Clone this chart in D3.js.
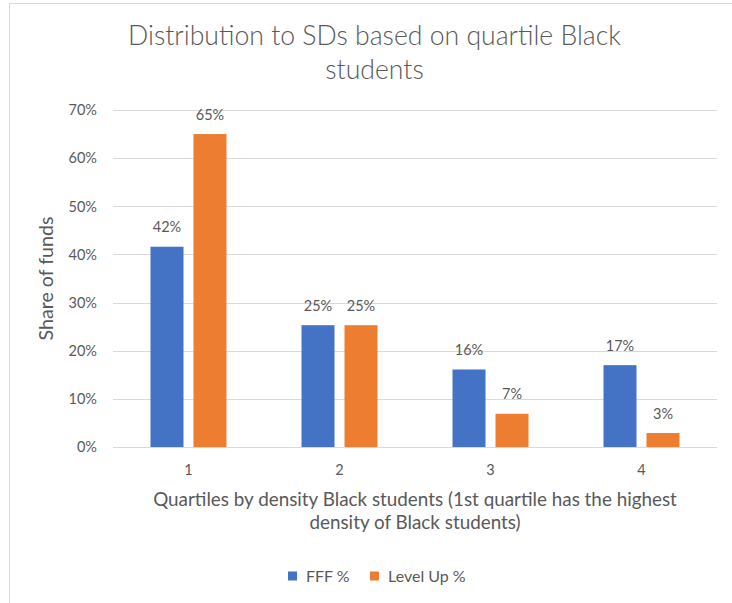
<!DOCTYPE html>
<html>
<head>
<meta charset="utf-8">
<script src="https://cdn.jsdelivr.net/npm/d3@7"></script>
<style>
  html, body { margin: 0; padding: 0; background: #fff; }
  svg { display: block; }
  text { fill: #595959; }
</style>
</head>
<body>
<script>
// ---- data ----
const categories = ["1", "2", "3", "4"];
const seriesNames = ["FFF %", "Level Up %"];
const fffValues = [0.416, 0.253, 0.161, 0.170];
const levelUpValues = [0.650, 0.253, 0.069, 0.029];
const valueLabelsFFF = ["42%", "25%", "16%", "17%"];
const valueLabelsLevelUp = ["65%", "25%", "7%", "3%"];
const yTicks = [0, 0.1, 0.2, 0.3, 0.4, 0.5, 0.6, 0.7];
const titleLines = ["Distribution to SDs based on quartile Black", "students"];
const xTitleLines = ["Quartiles by density Black students (1st quartile has the highest", "density of Black students)"];
const yTitle = "Share of funds";
const colors = ["#4472C4", "#ED7D31"];

const W = 732, H = 603;
const plot = { left: 113, right: 717, top: 110, bottom: 447 };
const FONT = "Lato, 'Open Sans', sans-serif";

const svg = d3.select("body").append("svg").attr("width", W).attr("height", H);
svg.append("rect").attr("width", W).attr("height", H).attr("fill", "#fff");

// scale a text's font size so the first element matches the target width
function fitFont(sel, baseSize, targetWidth) {
  sel.style("font-size", baseSize + "px");
  const w = sel.node().getComputedTextLength();
  const size = baseSize * targetWidth / w;
  sel.style("font-size", size + "px");
  return size;
}

// chart border (top & left visible)
svg.append("line").attr("x1", 9).attr("x2", W).attr("y1", 3.5).attr("y2", 3.5).attr("stroke", "#d9d9d9");
svg.append("line").attr("x1", 9.5).attr("x2", 9.5).attr("y1", 3).attr("y2", H).attr("stroke", "#d9d9d9");

const x0 = d3.scaleBand().domain(categories).range([plot.left, plot.right]).paddingInner(0).paddingOuter(0);
const y = d3.scaleLinear().domain([0, 0.7]).range([plot.bottom, plot.top]);

// gridlines
svg.append("g").selectAll("line").data(yTicks).join("line")
  .attr("x1", plot.left).attr("x2", plot.right)
  .attr("y1", d => Math.round(y(d)) + 0.5).attr("y2", d => Math.round(y(d)) + 0.5)
  .attr("stroke", "#d9d9d9").attr("stroke-width", 1);

const SMALL = 14.5;

// y tick labels
svg.append("g").selectAll("text").data(yTicks).join("text")
  .attr("x", 97).attr("y", d => y(d)).attr("dy", "0.36em")
  .attr("text-anchor", "end").style("font-family", FONT).style("font-size", SMALL + "px")
  .text(d => d3.format(".0%")(d));

// x tick labels
svg.append("g").selectAll("text").data(categories).join("text")
  .attr("x", d => x0(d) + x0.bandwidth() / 2).attr("y", 474.5)
  .attr("text-anchor", "middle").style("font-family", FONT).style("font-size", SMALL + "px")
  .text(d => d);

// bars
const barW = 33, gap = 10;
const series = [fffValues, levelUpValues];
const labels = [valueLabelsFFF, valueLabelsLevelUp];
series.forEach((vals, si) => {
  const g = svg.append("g");
  const xPos = (i) => x0(categories[i]) + x0.bandwidth() / 2 + (si === 0 ? -(gap / 2 + barW) : gap / 2);
  g.selectAll("rect").data(vals).join("rect")
    .attr("x", (d, i) => xPos(i))
    .attr("y", d => y(d))
    .attr("width", barW)
    .attr("height", d => y(0) - y(d))
    .attr("fill", colors[si]);
  g.selectAll("text").data(vals).join("text")
    .attr("x", (d, i) => xPos(i) + barW / 2)
    .attr("y", d => y(d) - 14.5)
    .attr("text-anchor", "middle").style("font-family", FONT).style("font-size", SMALL + "px")
    .text((d, i) => labels[si][i]);
});

// title
const titleSel = svg.append("g").selectAll("text").data(titleLines).join("text")
  .attr("x", 374.5).attr("y", (d, i) => 44.5 + i * 34)
  .attr("text-anchor", "middle").style("font-family", FONT)
  .style("font-weight", 300)
  .text(d => d);
{
  const s = fitFont(d3.select(titleSel.nodes()[0]), 24, 493);
  titleSel.style("font-size", s + "px");
}

// y title
const yTitleSel = svg.append("text")
  .attr("transform", `translate(53, ${(plot.top + plot.bottom) / 2}) rotate(-90)`)
  .attr("text-anchor", "middle").style("font-family", FONT)
  .text(yTitle);
fitFont(yTitleSel, 16, 124);

// x title
const xTitleSel = svg.append("g").selectAll("text").data(xTitleLines).join("text")
  .attr("x", (plot.left + plot.right) / 2).attr("y", (d, i) => 505.5 + i * 23.5)
  .attr("text-anchor", "middle").style("font-family", FONT)
  .text(d => d);
{
  const s = fitFont(d3.select(xTitleSel.nodes()[0]), 16, 524);
  xTitleSel.style("font-size", s + "px");
}

// legend
const legendX = [288, 370];
const lg = svg.append("g").selectAll("g").data(seriesNames).join("g")
  .attr("transform", (d, i) => `translate(${legendX[i]}, 576)`);
lg.append("rect").attr("x", 0).attr("y", -4.5).attr("width", 9).attr("height", 9).attr("fill", (d, i) => colors[i]);
lg.append("text").attr("x", 18).attr("y", 0).attr("dy", "0.36em")
  .style("font-family", FONT).style("font-size", "16px").text(d => d);
</script>
</body>
</html>
